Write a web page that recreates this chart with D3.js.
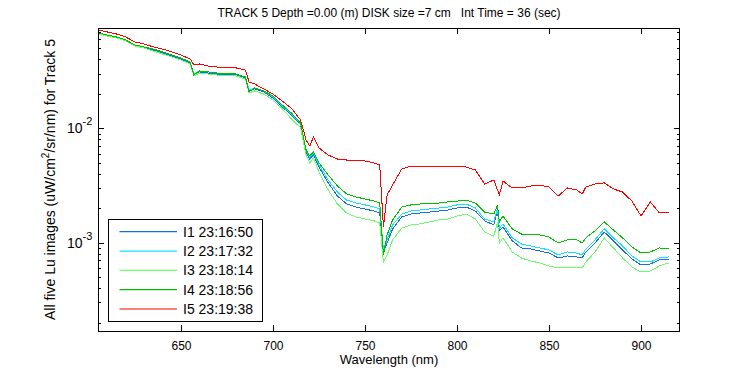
<!DOCTYPE html>
<html><head><meta charset="utf-8">
<script src="https://cdn.jsdelivr.net/npm/d3@7"></script>
<style>
body{margin:0;background:#fff;}
text{font-family:"Liberation Sans",Arial,Helvetica,sans-serif;fill:#000;}
</style>
</head><body>
<svg id="chart" width="750" height="375"></svg>
<script>
const wavelength = [605,610,615,620,625,630,635,640,645,650,655,657,660,665,670,675,680,685,687,690,695,700,705,710,715,718,720,722,725,730,735,740,745,750,755,758,760,762,765,770,775,780,785,790,795,800,805,810,815,820,822,823,825,830,835,840,845,850,855,860,865,868,870,875,880,885,890,895,900,905,910,915];

const lu1 = [0.0667,0.0641,0.0616,0.0580,0.0524,0.0503,0.0484,0.0455,0.0429,0.0403,0.0372,0.0298,0.0311,0.0304,0.0298,0.0298,0.0292,0.0275,0.0212,0.0221,0.0208,0.0184,0.0154,0.0131,0.0107,0.00621,0.00539,0.00584,0.00459,0.00333,0.00256,0.00218,0.00205,0.00197,0.00189,0.00182,0.000829,0.000994,0.00132,0.00168,0.00178,0.00182,0.00185,0.00189,0.00193,0.00201,0.00205,0.00189,0.00155,0.00143,0.00193,0.00127,0.00137,0.00104,0.000899,0.000881,0.000846,0.000812,0.000735,0.000765,0.000750,0.000735,0.000829,0.000994,0.00124,0.00104,0.000863,0.000720,0.000638,0.000651,0.000706,0.000720];

const lu2 = [0.0681,0.0654,0.0628,0.0591,0.0535,0.0514,0.0493,0.0465,0.0437,0.0412,0.0380,0.0298,0.0317,0.0311,0.0304,0.0304,0.0298,0.0281,0.0216,0.0225,0.0212,0.0188,0.0157,0.0133,0.0109,0.00646,0.00561,0.00608,0.00478,0.00353,0.00277,0.00236,0.00222,0.00214,0.00205,0.00197,0.000863,0.00106,0.00143,0.00178,0.00189,0.00193,0.00197,0.00201,0.00205,0.00214,0.00218,0.00201,0.00161,0.00152,0.00201,0.00134,0.00146,0.00110,0.000974,0.000936,0.000899,0.000863,0.000781,0.000829,0.000812,0.000781,0.000881,0.00106,0.00132,0.00110,0.000936,0.000765,0.000678,0.000678,0.000735,0.000750];

const lu3 = [0.0667,0.0641,0.0616,0.0580,0.0524,0.0503,0.0474,0.0446,0.0420,0.0395,0.0365,0.0287,0.0304,0.0298,0.0292,0.0292,0.0287,0.0270,0.0204,0.0212,0.0199,0.0177,0.0148,0.0121,0.0101,0.00584,0.00497,0.00550,0.00415,0.00289,0.00218,0.00182,0.00168,0.00161,0.00155,0.00149,0.000678,0.000781,0.00106,0.00134,0.00143,0.00146,0.00152,0.00158,0.00161,0.00171,0.00178,0.00161,0.00124,0.00114,0.00152,0.000994,0.00110,0.000829,0.000735,0.000692,0.000665,0.000626,0.000601,0.000601,0.000601,0.000601,0.000678,0.000829,0.00110,0.000899,0.000735,0.000613,0.000554,0.000566,0.000626,0.000665];

const lu4 = [0.0681,0.0654,0.0628,0.0591,0.0535,0.0514,0.0493,0.0465,0.0437,0.0412,0.0380,0.0292,0.0317,0.0311,0.0304,0.0304,0.0298,0.0281,0.0208,0.0225,0.0212,0.0192,0.0160,0.0136,0.0111,0.00646,0.00573,0.00621,0.00497,0.00391,0.00313,0.00267,0.00251,0.00241,0.00231,0.00222,0.000781,0.00117,0.00158,0.00205,0.00214,0.00218,0.00218,0.00222,0.00227,0.00231,0.00236,0.00222,0.00185,0.00178,0.00214,0.00152,0.00171,0.00132,0.00119,0.00117,0.00117,0.00112,0.000994,0.00106,0.00106,0.000994,0.00110,0.00127,0.00152,0.00129,0.00110,0.000917,0.000812,0.000829,0.000899,0.000881];

const lu5 = [0.0723,0.0695,0.0667,0.0628,0.0568,0.0546,0.0514,0.0493,0.0465,0.0437,0.0403,0.0358,0.0365,0.0350,0.0343,0.0343,0.0337,0.0323,0.0254,0.0244,0.0221,0.0199,0.0173,0.0150,0.0118,0.00790,0.00700,0.00839,0.00673,0.00584,0.00539,0.00528,0.00528,0.00518,0.00497,0.00478,0.00137,0.00261,0.00319,0.00441,0.00468,0.00468,0.00468,0.00459,0.00459,0.00459,0.00459,0.00432,0.00326,0.00353,0.00289,0.00261,0.00346,0.00301,0.00301,0.00313,0.00319,0.00307,0.00256,0.00301,0.00289,0.00266,0.00307,0.00326,0.00333,0.00295,0.00277,0.00231,0.00171,0.00227,0.00182,0.00182];

const seriesNames = ["I1 23:16:50","I2 23:17:32","I3 23:18:14","I4 23:18:56","I5 23:19:38"];
const seriesColors = ["#1470e6","#14e1ff","#6cff6c","#00c000","#ff0000"];
const seriesValues = [lu1, lu2, lu3, lu4, lu5];

const xTicks = [650,700,750,800,850,900];
const yMajorTicks = [1e-3, 1e-2];
const yMajorExponents = ["-3","-2"];
const yMinorTicks = [2e-4,3e-4,4e-4,5e-4,6e-4,7e-4,8e-4,9e-4,2e-3,3e-3,4e-3,5e-3,6e-3,7e-3,8e-3,9e-3,2e-2,3e-2,4e-2,5e-2,6e-2,7e-2];

const titleText = "TRACK 5 Depth =0.00 (m) DISK size =7 cm   Int Time = 36 (sec)";
const xLabel = "Wavelength (nm)";

const svg = d3.select("#chart");
const P = {left:98, right:679.5, top:28, bottom:331};
const x = d3.scaleLinear().domain([604.9, 920.9]).range([P.left, P.right]);
const y = d3.scaleLog().domain([1.69e-4, 0.0753]).range([P.bottom, P.top]);

svg.append("rect").attr("width",750).attr("height",375).attr("fill","#fff");

svg.append("clipPath").attr("id","clip").append("rect")
  .attr("x",P.left).attr("y",P.top).attr("width",P.right-P.left).attr("height",P.bottom-P.top);

const line = d3.line().x((d,i)=>x(wavelength[i])).y(d=>y(d));
const g = svg.append("g").attr("clip-path","url(#clip)");
seriesValues.forEach((vals,k)=>{
  g.append("path").datum(vals).attr("d",line)
    .attr("fill","none").attr("stroke",seriesColors[k]).attr("stroke-width",1)
    .attr("shape-rendering","crispEdges");
});

const bottomAxis = d3.axisBottom(x).tickValues(xTicks).tickSizeInner(-6).tickSizeOuter(0).tickPadding(10).tickFormat(d3.format("d"));
const gb = svg.append("g").attr("transform",`translate(0,${P.bottom})`).call(bottomAxis);
gb.selectAll("text").attr("font-size",12).style("font-family",'"Liberation Sans",Arial,sans-serif');
const topAxis = d3.axisTop(x).tickValues(xTicks).tickSizeInner(-6).tickSizeOuter(0).tickFormat("");
svg.append("g").attr("transform",`translate(0,${P.top})`).call(topAxis);

const leftMajor = d3.axisLeft(y).tickValues(yMajorTicks).tickSizeInner(-6).tickSizeOuter(0).tickFormat("");
const leftMinor = d3.axisLeft(y).tickValues(yMinorTicks).tickSizeInner(-3).tickSizeOuter(0).tickFormat("");
const rightMajor = d3.axisRight(y).tickValues(yMajorTicks).tickSizeInner(-6).tickSizeOuter(0).tickFormat("");
const rightMinor = d3.axisRight(y).tickValues(yMinorTicks).tickSizeInner(-3).tickSizeOuter(0).tickFormat("");
svg.append("g").attr("transform",`translate(${P.left},0)`).call(leftMajor);
svg.append("g").attr("transform",`translate(${P.left},0)`).call(leftMinor);
svg.append("g").attr("transform",`translate(${P.right},0)`).call(rightMajor);
svg.append("g").attr("transform",`translate(${P.right},0)`).call(rightMinor);
svg.selectAll(".domain").remove();
svg.selectAll(".tick line").attr("stroke","#000").attr("shape-rendering","crispEdges");

svg.append("rect").attr("x",P.left).attr("y",P.top).attr("width",P.right-P.left).attr("height",P.bottom-P.top)
  .attr("fill","none").attr("stroke","#000").attr("shape-rendering","crispEdges");

yMajorTicks.forEach((v,i)=>{
  const t = svg.append("text").attr("x",67).attr("y",y(v)+5).attr("font-size",14);
  t.append("tspan").text("10");
  t.append("tspan").attr("dy",-8).attr("font-size",11).text(yMajorExponents[i]);
});

svg.append("text").attr("x",389).attr("y",17).attr("text-anchor","middle").attr("font-size",12)
  .attr("xml:space","preserve").style("white-space","pre").text(titleText);

svg.append("text").attr("x",389).attr("y",364).attr("text-anchor","middle").attr("font-size",13).text(xLabel);

const yl = svg.append("text").attr("transform",`translate(55,${(P.top+P.bottom)/2}) rotate(-90)`)
  .attr("text-anchor","middle").attr("font-size",14);
yl.append("tspan").text("All five Lu images (uW/cm");
yl.append("tspan").attr("dy",-6).attr("font-size",10).text("2");
yl.append("tspan").attr("dy",6).text("/sr/nm) for Track 5");

const L = {x:108.5, y:219.5, w:154, h:102};
svg.append("rect").attr("x",L.x).attr("y",L.y).attr("width",L.w).attr("height",L.h)
  .attr("fill","#fff").attr("stroke","#000").attr("shape-rendering","crispEdges");
const rowY = d3.scaleLinear().domain([0,4]).range([231.7,309]);
seriesNames.forEach((name,k)=>{
  svg.append("line").attr("x1",119.5).attr("x2",177).attr("y1",rowY(k)).attr("y2",rowY(k))
    .attr("stroke",seriesColors[k]).attr("stroke-width",1.2);
  svg.append("text").attr("x",183).attr("y",rowY(k)+5).attr("font-size",14).text(name);
});
</script>
</body></html>
